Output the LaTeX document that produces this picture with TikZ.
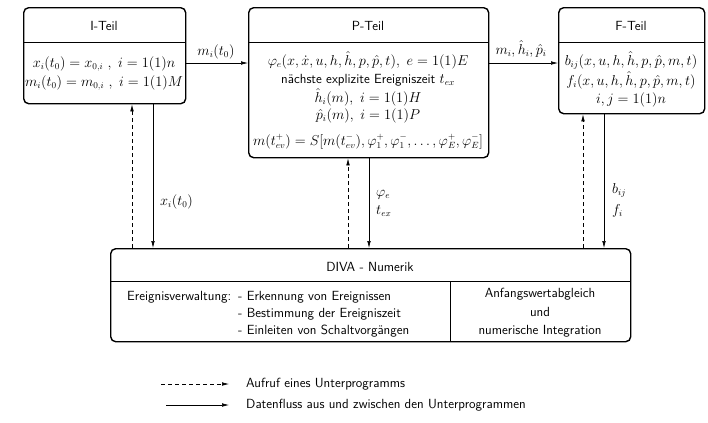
\documentclass[tikz,border=0pt]{standalone}
\usetikzlibrary{arrows.meta}
\begin{document}
\begin{tikzpicture}[x=1bp,y=-1bp,
  font=\sffamily\fontsize{13.3}{15}\selectfont,
  box/.style={draw, line width=1.4pt, rounded corners=5bp, inner sep=0pt, anchor=north west},
  divider/.style={line width=0.6pt},
  txt/.style={inner sep=0pt, anchor=base},
  lbl/.style={inner sep=0pt, anchor=base west},
  tip/.style={-{Latex[length=7bp,width=3.6bp]}},
  dataflow/.style={tip, line width=0.6pt},
  callflow/.style={tip, line width=0.6pt, dash pattern=on 4bp off 3bp}]
\useasboundingbox (0,0) rectangle (708,422);

% boxes
\node[box, minimum width=162bp, minimum height=96bp] (I) at (23,7) {};
\node[box, minimum width=240bp, minimum height=150bp] (P) at (248,7) {};
\node[box, minimum width=146bp, minimum height=106bp] (F) at (558,7) {};
\node[box, minimum width=520bp, minimum height=93bp] (D) at (110,248) {};

% header dividers
\coordinate (hd) at (0,42);
\draw[divider] (hd -| I.west) -- (hd -| I.east);
\draw[divider] (hd -| P.west) -- (hd -| P.east);
\draw[divider] (hd -| F.west) -- (hd -| F.east);
\coordinate (dd) at (0,281);
\coordinate (dv) at (450,0);
\draw[divider] (dd -| D.west) -- (dd -| D.east);
\draw[divider] (dv |- dd) -- (dv |- D.south);

% headers
\node[txt] (Ih) at (104,30) {I-Teil};
\node[txt] (Ph) at (368,30) {P-Teil};
\node[txt] (Fh) at (631,30) {F-Teil};
\node[txt] (Dh) at (370,271) {DIVA - Numerik};

% I-Teil content
\node[txt] (I1) at (104,67) {$x_i(t_0)=x_{0,i}\ ,\ i=1(1)n$};
\node[txt] (I2) at (104,86) {$m_i(t_0)=m_{0,i}\ ,\ i=1(1)M$};

% P-Teil content
\node[txt] (P1) at (368,65) {$\varphi_e(x,\dot x,u,h,\hat h,p,\hat p,t),\ e=1(1)E$};
\node[txt] (P2) at (368,83) {nächste explizite Ereigniszeit $t_{ex}$};
\node[txt] (P3) at (368,102) {$\hat h_i(m),\ i=1(1)H$};
\node[txt] (P4) at (368,119) {$\hat p_i(m),\ i=1(1)P$};
\node[txt] (P5) at (368,145) {$m(t_{ev}^+)=S[m(t_{ev}^-),\varphi_1^+,\varphi_1^-,\ldots,\varphi_E^+,\varphi_E^-]$};

% F-Teil content
\node[txt] (F1) at (631,65) {$b_{ij}(x,u,h,\hat h,p,\hat p,m,t)$};
\node[txt] (F2) at (631,85) {$f_i(x,u,h,\hat h,p,\hat p,m,t)$};
\node[txt] (F3) at (631,103) {$i,j=1(1)n$};

% DIVA content
\node[lbl] (D1) at (127,300) {Ereignisverwaltung:};
\node[lbl] (D2) at (238,300) {- Erkennung von Ereignissen};
\node[lbl] (D3) at (238,317) {- Bestimmung der Ereigniszeit};
\node[lbl] (D4) at (238,334) {- Einleiten von Schaltvorgängen};
\node[txt] (D5) at (540,297) {Anfangswertabgleich};
\node[txt] (D6) at (540,316) {und};
\node[txt] (D7) at (540,334) {numerische Integration};

% horizontal data arrows
\coordinate (r) at (0,63);
\draw[dataflow] (r -| I.east) -- (r -| P.west);
\draw[dataflow] (r -| P.east) -- (r -| F.west);
\node[txt] (l1) at (216,55) {$m_i(t_0)$};
\node[txt] (l2) at (521,54) {$m_i,\hat h_i,\hat p_i$};

% vertical arrows
\coordinate (ia) at (132,0);
\coordinate (ib) at (153,0);
\coordinate (pa) at (348,0);
\coordinate (pb) at (369,0);
\coordinate (fa) at (583,0);
\coordinate (fb) at (604,0);
\draw[callflow] (ia |- D.north) -- (ia |- I.south);
\draw[dataflow] (ib |- I.south) -- (ib |- D.north);
\draw[callflow] (pa |- D.north) -- (pa |- P.south);
\draw[dataflow] (pb |- P.south) -- (pb |- D.north);
\draw[callflow] (fa |- D.north) -- (fa |- F.south);
\draw[dataflow] (fb |- F.south) -- (fb |- D.north);
\node[lbl] (l3) at (160,205) {$x_i(t_0)$};
\node[lbl] (l4) at (376,196) {$\varphi_e$};
\node[lbl] (l5) at (376,214) {$t_{ex}$};
\node[lbl] (l6) at (612,193) {$b_{ij}$};
\node[lbl] (l7) at (612,214) {$f_i$};

% legend
\coordinate (ga1) at (161,384);
\coordinate (ga2) at (229,384);
\coordinate (gb1) at (166,405);
\coordinate (gb2) at (229,405);
\draw[callflow] (ga1) -- (ga2);
\draw[dataflow] (gb1) -- (gb2);
\node[lbl, anchor=west] (g1) at (246,384) {Aufruf eines Unterprogramms};
\node[lbl, anchor=west] (g2) at (246,405) {Datenfluss aus und zwischen den Unterprogrammen};
\end{tikzpicture}
\end{document}
